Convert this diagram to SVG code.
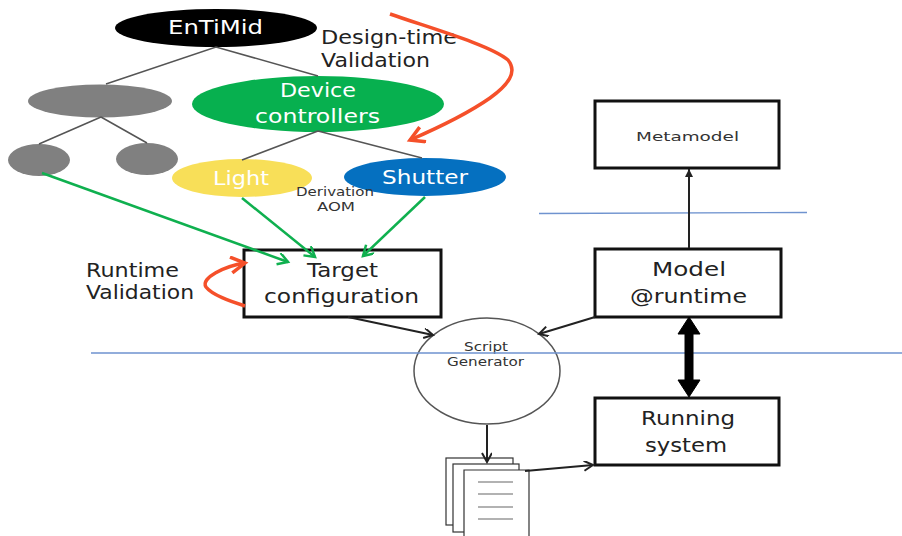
<svg xmlns="http://www.w3.org/2000/svg" width="902" height="536" viewBox="0 0 902 536">
<style>
text{font-family:"DejaVu Sans","Open Sans",sans-serif}
.w{fill:#fff;font-size:20px}
.k{fill:#222;font-size:20px}
.s{fill:#333;font-size:13px}
.box{fill:#fff;stroke:#111;stroke-width:3}
.tree{stroke:#555;stroke-width:1.5;fill:none}
.g{stroke:#0fb04f;stroke-width:2.5;fill:none;marker-end:url(#ag)}
.r{stroke:#f5502a;stroke-width:3.5;fill:none;marker-end:url(#ar)}
.b{stroke:#222;stroke-width:2;fill:none;marker-end:url(#ab)}
.page{fill:#fff;stroke:#333;stroke-width:1.2}
.bl{stroke:#6f93cf;stroke-width:1.3}
</style>
<defs>
<marker id="ag" markerWidth="14" markerHeight="14" refX="11" refY="6" orient="auto" markerUnits="userSpaceOnUse"><path d="M1 0L11 6L1 12" fill="none" stroke="#0fb04f" stroke-width="2.5"/></marker>
<marker id="ar" markerWidth="22" markerHeight="22" refX="16" refY="9" orient="auto" markerUnits="userSpaceOnUse"><path d="M2 1L16 9L2 17" fill="none" stroke="#f5502a" stroke-width="3.5"/></marker>
<marker id="ab" markerWidth="12" markerHeight="12" refX="10" refY="5" orient="auto" markerUnits="userSpaceOnUse"><path d="M1 0L10 5L1 10" fill="none" stroke="#222" stroke-width="2"/></marker>
<marker id="as" markerWidth="10" markerHeight="10" refX="8" refY="4" orient="auto" markerUnits="userSpaceOnUse"><path d="M0 0L8 4L0 8Z" fill="#222"/></marker>
</defs>
<g id="entimid"><ellipse cx="216" cy="28" rx="101" ry="19" fill="#000"/><text class="w" x="168" y="34" textLength="95" lengthAdjust="spacingAndGlyphs">EnTiMid</text></g>
<g id="gray-parent"><ellipse cx="100" cy="101" rx="72" ry="16.5" fill="#808080"/></g>
<g id="device-controllers"><ellipse cx="318" cy="104" rx="126" ry="28" fill="#07b04f"/><text class="w" x="280" y="97" textLength="76" lengthAdjust="spacingAndGlyphs">Device</text><text class="w" x="255" y="123" textLength="125" lengthAdjust="spacingAndGlyphs">controllers</text></g>
<g id="gray-left"><ellipse cx="39" cy="160" rx="31" ry="16" fill="#808080"/></g>
<g id="gray-right"><ellipse cx="147" cy="159" rx="31" ry="16" fill="#808080"/></g>
<g id="light"><ellipse cx="242" cy="178" rx="70" ry="19" fill="#f8df58"/><text class="w" x="213" y="185" textLength="56" lengthAdjust="spacingAndGlyphs">Light</text></g>
<g id="shutter"><ellipse cx="425" cy="177" rx="81" ry="19" fill="#0570c0"/><text class="w" x="382" y="184" textLength="86" lengthAdjust="spacingAndGlyphs">Shutter</text></g>
<g id="derivation"><text class="s" x="296" y="196" textLength="78" lengthAdjust="spacingAndGlyphs">Derivation</text><text class="s" x="317" y="211" textLength="38" lengthAdjust="spacingAndGlyphs">AOM</text></g>
<g id="design-time"><text class="k" x="321" y="44" textLength="136" lengthAdjust="spacingAndGlyphs">Design-time</text><text class="k" x="321" y="67" textLength="109" lengthAdjust="spacingAndGlyphs">Validation</text></g>
<g id="runtime"><text class="k" x="86" y="277" textLength="93" lengthAdjust="spacingAndGlyphs">Runtime</text><text class="k" x="86" y="299" textLength="108" lengthAdjust="spacingAndGlyphs">Validation</text></g>
<g id="target"><rect class="box" x="244" y="250" width="197" height="67"/><text class="k" x="307" y="277" textLength="71" lengthAdjust="spacingAndGlyphs">Target</text><text class="k" x="264" y="303" textLength="155" lengthAdjust="spacingAndGlyphs">configuration</text></g>
<g id="metamodel"><rect class="box" x="595" y="101" width="184" height="67"/><text class="s" x="636" y="141" textLength="103" lengthAdjust="spacingAndGlyphs">Metamodel</text></g>
<g id="model"><rect class="box" x="595" y="249" width="186" height="68"/><text class="k" x="652" y="276" textLength="74" lengthAdjust="spacingAndGlyphs">Model</text><text class="k" x="630" y="303" textLength="117" lengthAdjust="spacingAndGlyphs">@runtime</text></g>
<g id="running"><rect class="box" x="595" y="398" width="184" height="67"/><text class="k" x="641" y="425" textLength="94" lengthAdjust="spacingAndGlyphs">Running</text><text class="k" x="645" y="452" textLength="82" lengthAdjust="spacingAndGlyphs">system</text></g>
<g id="script-generator"><ellipse cx="487" cy="371" rx="73" ry="53" fill="none" stroke="#555" stroke-width="1.5"/><text class="s" x="464" y="351" textLength="44" lengthAdjust="spacingAndGlyphs">Script</text><text class="s" x="447" y="366" textLength="77" lengthAdjust="spacingAndGlyphs">Generator</text></g>
<g id="documents"><rect class="page" x="446" y="458" width="67" height="67"/><rect class="page" x="453" y="464" width="66" height="68"/><path class="page" d="M464 536V470H529V536"/><path d="M478 482H513M478 494H513M478 507H513M478 519H513" stroke="#666" stroke-width="1.2"/></g>
<g id="connectors">
<path class="tree" d="M106 84L216 47L318 76M101 117L39 144M101 117L147 143M318 131L242 160M318 131L422 158"/>
<path class="bl" d="M539 213.5L807 212.5M91 353H902"/>
<path class="g" d="M42 173L288 262"/>
<path class="g" d="M242 198L315 257"/>
<path class="g" d="M425 197L363 256"/>
<path class="r" d="M390 14C430 28 490 45 508 60C518 72 508 85 490 98C470 112 440 127 410 140"/>
<path class="r" d="M245 306C230 301 212 295 206 287C200 278 225 266 245 263"/>
<path class="b" d="M348 317L433 335"/>
<path class="b" d="M595 317L539 334"/>
<path class="b" d="M487 425V462"/>
<path class="b" d="M525 471L593 465"/>
<path d="M689 248V169" stroke="#222" stroke-width="2" marker-end="url(#as)"/>
<path d="M689 317L700 334H693V380H700L689 397L678 380H685V334H678Z" fill="#000" stroke="#000"/>
</g>
</svg>
